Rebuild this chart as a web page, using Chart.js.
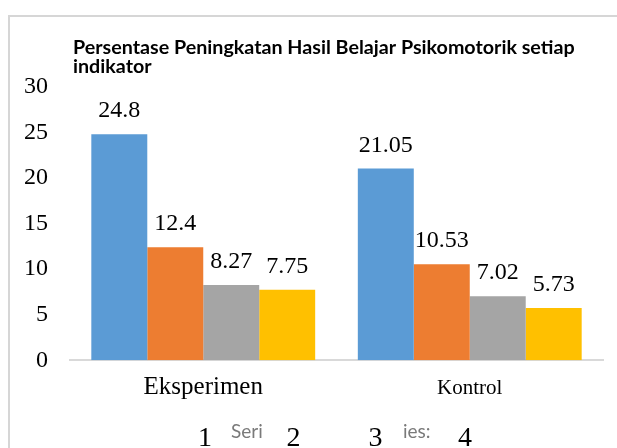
<!DOCTYPE html>
<html>
<head>
<meta charset="utf-8">
<script src="https://cdn.jsdelivr.net/npm/chart.js@4.4.1/dist/chart.umd.min.js"></script>
<style>
  html, body { margin: 0; padding: 0; background: #fff; overflow: hidden; }
  #wrap { position: relative; width: 617px; height: 448px; overflow: hidden; }
  #frame { position: absolute; left: 8px; top: 15px; width: 609px; height: 433px;
           border-top: 2px solid #d6d6d6; border-left: 2px solid #d6d6d6; box-sizing: border-box; }
  canvas { position: absolute; left: 0; top: 0; }
</style>
</head>
<body>
<div id="wrap">
  <div id="frame"></div>
  <canvas id="chart" width="617" height="448"></canvas>
</div>
<script>
// --- data ---
const categories = ["Eksperimen", "Kontrol"];
const seriesNames = ["1", "2", "3", "4"];
const indikator1 = [24.8, 21.05];
const indikator2 = [12.4, 10.53];
const indikator3 = [8.27, 7.02];
const indikator4 = [7.75, 5.73];
const yTicks = [0, 5, 10, 15, 20, 25, 30];
const titleLines = ["Persentase Peningkatan Hasil Belajar Psikomotorik setiap", "indikator"];

const colors = ["#5B9BD5", "#ED7D31", "#A5A5A5", "#FFC000"];
const SERIF = "'Liberation Serif', 'Times New Roman', serif";

function ds(label, data, color) {
  return { label, data, backgroundColor: color, borderWidth: 0,
           barPercentage: 1.0, categoryPercentage: 0.84 };
}

// value labels above each bar
const valueLabels = {
  id: "valueLabels",
  afterDatasetsDraw(chart) {
    const ctx = chart.ctx;
    ctx.save();
    ctx.font = "24px " + SERIF;
    ctx.fillStyle = "#000";
    ctx.textAlign = "center";
    ctx.textBaseline = "alphabetic";
    chart.data.datasets.forEach((d, i) => {
      chart.getDatasetMeta(i).data.forEach((bar, j) => {
        ctx.fillText(String(d.data[j]), bar.x, bar.y - 17);
      });
    });
    ctx.restore();
  }
};

// left-aligned two-line title
const titleBlock = {
  id: "titleBlock",
  afterDraw(chart) {
    const ctx = chart.ctx;
    ctx.save();
    ctx.font = "bold 19.7px Lato, 'Open Sans', sans-serif";
    ctx.fillStyle = "#000";
    ctx.textAlign = "left";
    ctx.textBaseline = "alphabetic";
    ctx.fillText(titleLines[0], 73, 54);
    ctx.fillText(titleLines[1], 73, 73);
    ctx.restore();
  }
};

// bottom legend (as it appears: numbers only, with stray text fragments)
const legendXs = [205, 293.5, 375.5, 465];
const bottomLegend = {
  id: "bottomLegend",
  afterDraw(chart) {
    const ctx = chart.ctx;
    ctx.save();
    ctx.font = "19px Lato, sans-serif";
    ctx.fillStyle = "#7a7a7a";
    ctx.textAlign = "left";
    ctx.textBaseline = "alphabetic";
    ctx.fillText("Seri", 231, 438);
    ctx.fillText("ies:", 403, 438);
    ctx.font = "28px " + SERIF;
    ctx.fillStyle = "#000";
    ctx.textAlign = "center";
    chart.data.datasets.forEach((d, i) => ctx.fillText(d.label, legendXs[i], 446));
    ctx.restore();
  }
};

new Chart(document.getElementById("chart"), {
  type: "bar",
  data: {
    labels: categories,
    datasets: [
      ds(seriesNames[0], indikator1, colors[0]),
      ds(seriesNames[1], indikator2, colors[1]),
      ds(seriesNames[2], indikator3, colors[2]),
      ds(seriesNames[3], indikator4, colors[3]),
    ],
  },
  options: {
    responsive: false, animation: false, devicePixelRatio: 1,
    layout: { padding: { top: 87, left: 2, right: 14, bottom: 31 } },
    plugins: { legend: { display: false }, title: { display: false }, tooltip: { enabled: false } },
    scales: {
      x: {
        grid: { display: false, drawTicks: false },
        border: { display: true, color: "#d9d9d9", width: 2 },
        ticks: {
          color: "#000", padding: 12,
          font: (c) => c.index === 0
            ? { family: SERIF, size: 25, lineHeight: 1.2 }
            : { family: SERIF, size: 21, lineHeight: 1.56 },
        },
      },
      y: {
        min: yTicks[0], max: yTicks[yTicks.length - 1],
        afterBuildTicks: (axis) => { axis.ticks = yTicks.map((v) => ({ value: v })); },
        grid: { display: false, drawTicks: false },
        border: { display: false },
        ticks: { color: "#000", padding: 22, font: { family: SERIF, size: 24 } },
      },
    },
  },
  plugins: [valueLabels, titleBlock, bottomLegend],
});
</script>
</body>
</html>
